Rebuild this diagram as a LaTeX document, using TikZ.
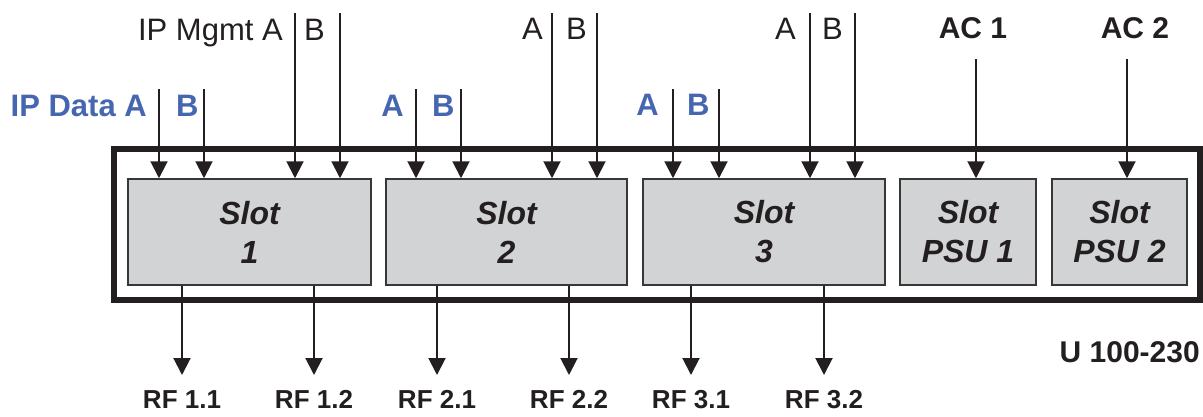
\documentclass[tikz,border=0pt]{standalone}
\usepackage{fontspec}
\setmainfont{Liberation Sans}
\usepackage{tikz}
\usetikzlibrary{arrows.meta}

\definecolor{slotgray}{RGB}{209,211,212}
\definecolor{slotedge}{RGB}{55,55,55}
\definecolor{datablue}{RGB}{70,103,176}
\definecolor{ink}{RGB}{35,31,32}

\tikzset{
  chassis/.style={draw=ink,line width=6pt,rectangle,inner sep=0pt},
  slotbox/.style={draw=slotedge,fill=slotgray,line width=1.5pt,rectangle,inner sep=0pt,
    minimum height=106pt,align=center,text=ink,
    font=\fontsize{32}{39}\selectfont\bfseries\itshape},
  feed/.style={draw=ink,line width=2pt,-{Triangle[width=17pt,length=17pt]}},
  mgmtlab/.style={inner sep=0pt,text=ink,font=\fontsize{31}{36}\selectfont},
  datalab/.style={inner sep=0pt,text=datablue,font=\fontsize{31}{36}\selectfont\bfseries},
  powlab/.style={inner sep=0pt,text=ink,font=\fontsize{30}{36}\selectfont\bfseries},
  rflab/.style={inner sep=0pt,text=ink,font=\fontsize{26}{30}\selectfont\bfseries},
}

\begin{document}
\begin{tikzpicture}[x=1pt,y=-1pt]
  \useasboundingbox (0,0) rectangle (1203,416);
  % chassis and slots
  \node[chassis,minimum width=1086pt,minimum height=151pt] (chassis) at (657,224.5) {};
  \node[slotbox,minimum width=243pt] (slot1) at (249.5,232) {Slot\\1};
  \node[slotbox,minimum width=241pt] (slot2) at (506.5,232) {Slot\\2};
  \node[slotbox,minimum width=242pt] (slot3) at (764,232) {Slot\\3};
  \node[slotbox,minimum width=136pt] (psu1) at (968,232) {Slot\\PSU 1};
  \node[slotbox,minimum width=135pt] (psu2) at (1119.5,232) {Slot\\PSU 2};

  % feed points
  \coordinate (data1a) at (159,89);
  \coordinate (data1b) at (204,89);
  \coordinate (mgmt1a) at (295,13);
  \coordinate (mgmt1b) at (340,13);
  \coordinate (data2a) at (416,89);
  \coordinate (data2b) at (461,89);
  \coordinate (mgmt2a) at (552,13);
  \coordinate (mgmt2b) at (597,13);
  \coordinate (data3a) at (673,89);
  \coordinate (data3b) at (719,89);
  \coordinate (mgmt3a) at (810,13);
  \coordinate (mgmt3b) at (855,13);
  \coordinate (ac1) at (976,59);
  \coordinate (ac2) at (1127,59);
  \coordinate (rf11) at (182,375);
  \coordinate (rf12) at (314,375);
  \coordinate (rf21) at (437,375);
  \coordinate (rf22) at (569,375);
  \coordinate (rf31) at (691,375);
  \coordinate (rf32) at (824,375);

  % inputs
  \draw[feed] (data1a) -- (data1a |- slot1.north);
  \draw[feed] (data1b) -- (data1b |- slot1.north);
  \draw[feed] (mgmt1a) -- (mgmt1a |- slot1.north);
  \draw[feed] (mgmt1b) -- (mgmt1b |- slot1.north);
  \draw[feed] (data2a) -- (data2a |- slot2.north);
  \draw[feed] (data2b) -- (data2b |- slot2.north);
  \draw[feed] (mgmt2a) -- (mgmt2a |- slot2.north);
  \draw[feed] (mgmt2b) -- (mgmt2b |- slot2.north);
  \draw[feed] (data3a) -- (data3a |- slot3.north);
  \draw[feed] (data3b) -- (data3b |- slot3.north);
  \draw[feed] (mgmt3a) -- (mgmt3a |- slot3.north);
  \draw[feed] (mgmt3b) -- (mgmt3b |- slot3.north);
  \draw[feed] (ac1) -- (ac1 |- psu1.north);
  \draw[feed] (ac2) -- (ac2 |- psu2.north);

  % outputs
  \draw[feed] (rf11 |- slot1.south) -- (rf11);
  \draw[feed] (rf12 |- slot1.south) -- (rf12);
  \draw[feed] (rf21 |- slot2.south) -- (rf21);
  \draw[feed] (rf22 |- slot2.south) -- (rf22);
  \draw[feed] (rf31 |- slot3.south) -- (rf31);
  \draw[feed] (rf32 |- slot3.south) -- (rf32);

  % labels
  \node[mgmtlab,anchor=base east] (mgmt1alab) at (283,40) {IP Mgmt A};
  \node[mgmtlab,anchor=base west] (mgmt1blab) at (304,40) {B};
  \node[datalab,anchor=base east] (data1alab) at (147,116) {IP Data A};
  \node[datalab,anchor=base west] (data1blab) at (176,116) {B};
  \node[mgmtlab,anchor=base east] (mgmt2alab) at (543,39) {A};
  \node[mgmtlab,anchor=base west] (mgmt2blab) at (566,39) {B};
  \node[datalab,anchor=base east] (data2alab) at (404,116) {A};
  \node[datalab,anchor=base west] (data2blab) at (432,116) {B};
  \node[mgmtlab,anchor=base east] (mgmt3alab) at (796,39) {A};
  \node[mgmtlab,anchor=base west] (mgmt3blab) at (822,39) {B};
  \node[datalab,anchor=base east] (data3alab) at (659,115) {A};
  \node[datalab,anchor=base west] (data3blab) at (687,115) {B};
  \node[powlab,anchor=base] (ac1lab) at (973,38) {AC 1};
  \node[powlab,anchor=base] (ac2lab) at (1135,38) {AC 2};
  \node[powlab,anchor=base east] (voltlab) at (1200,362) {U 100-230};
  \node[rflab,anchor=base] (rf11lab) at (182,408) {RF 1.1};
  \node[rflab,anchor=base] (rf12lab) at (314,408) {RF 1.2};
  \node[rflab,anchor=base] (rf21lab) at (437,408) {RF 2.1};
  \node[rflab,anchor=base] (rf22lab) at (569,408) {RF 2.2};
  \node[rflab,anchor=base] (rf31lab) at (691,408) {RF 3.1};
  \node[rflab,anchor=base] (rf32lab) at (824,408) {RF 3.2};
\end{tikzpicture}
\end{document}
